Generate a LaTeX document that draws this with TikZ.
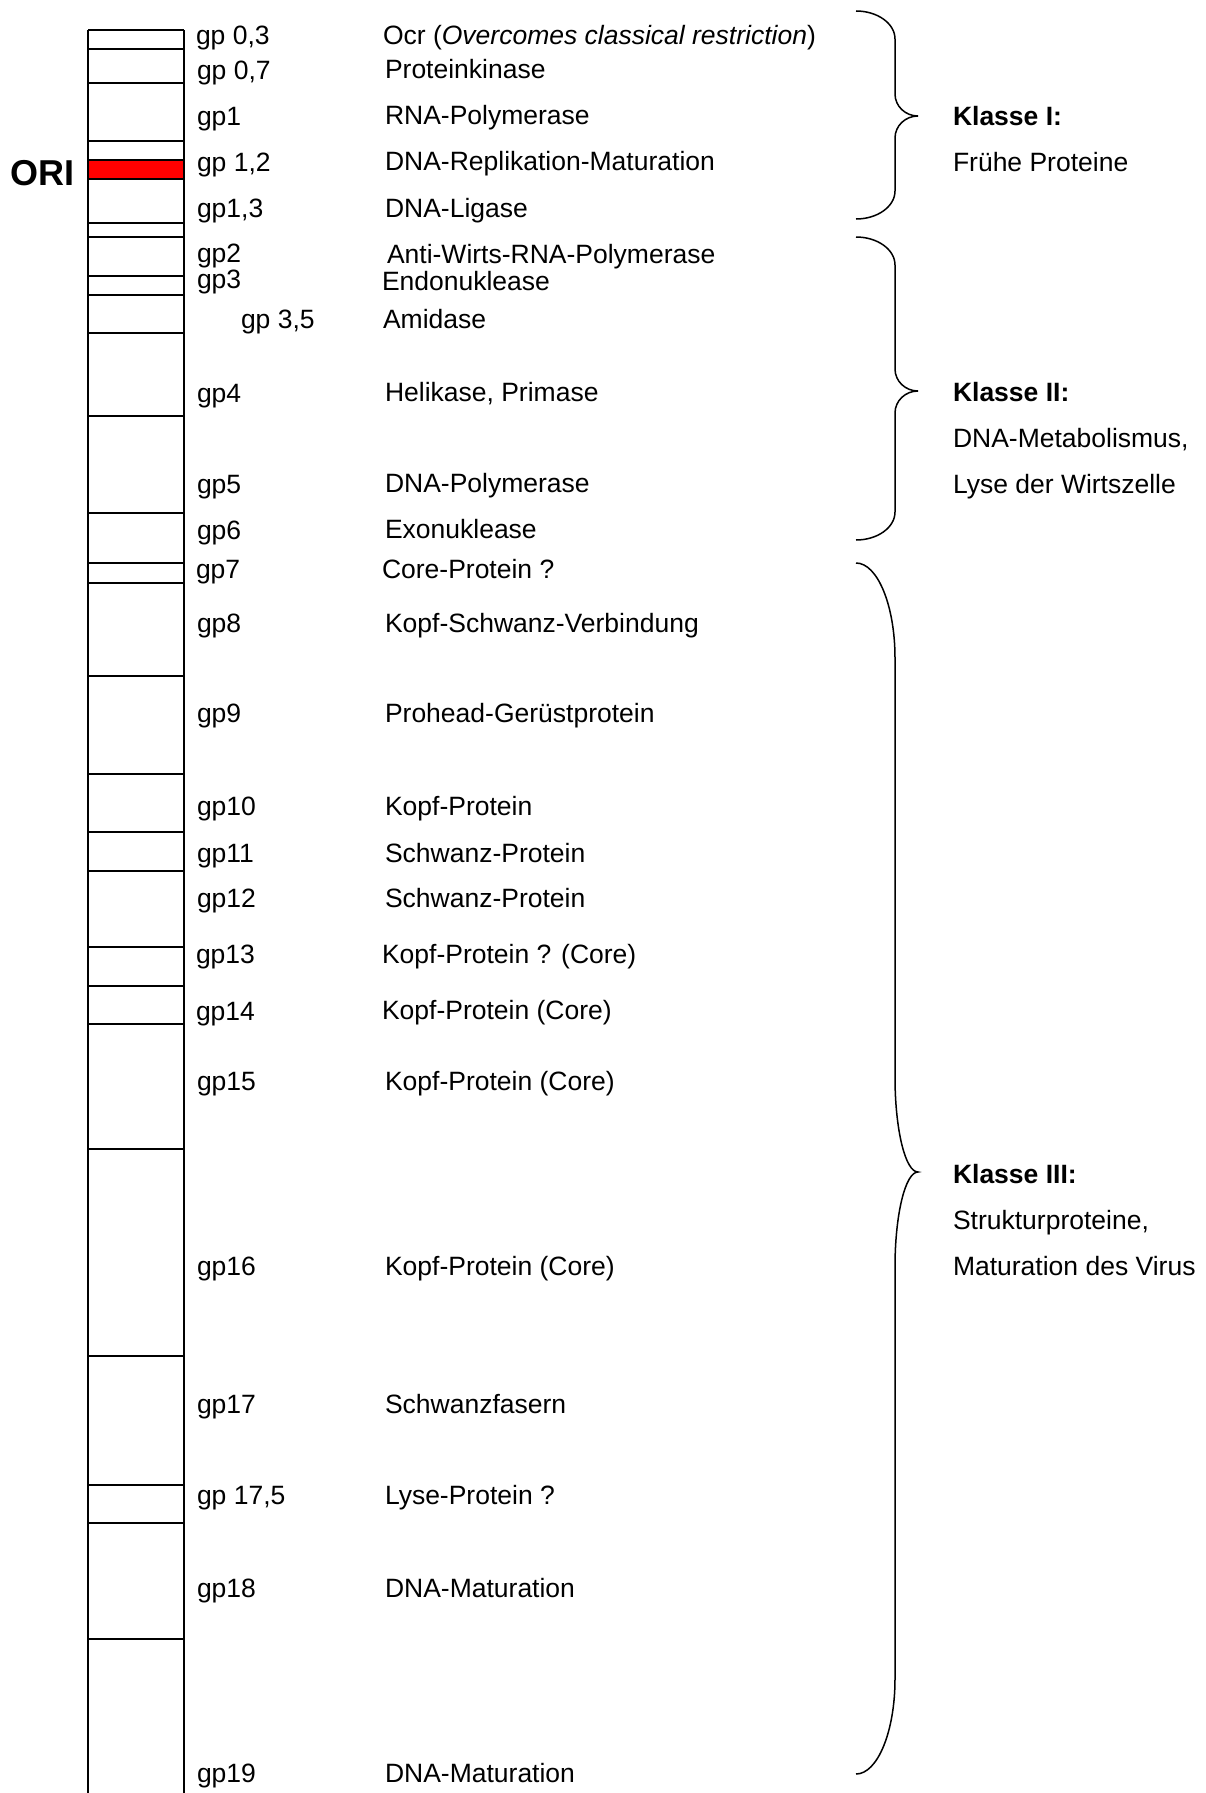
\documentclass[tikz,border=0pt]{standalone}
\usepackage{fontspec}
\setmainfont{Liberation Sans}
\newcommand\classbrace[5]{% top, tip, bottom, end radius, tip radius
  \draw[bracestyle] (856,#1) .. controls ({856+0.552*39},#1) and (895,{#1+0.448*#4}) .. (895,{#1+#4})
    -- (895,{#2-#5}) .. controls (895,{#2-0.448*#5}) and ({918-0.552*23},#2) .. (918,#2)
    .. controls ({918-0.552*23},#2) and (895,{#2+0.448*#5}) .. (895,{#2+#5})
    -- (895,{#3-#4}) .. controls (895,{#3-0.448*#4}) and ({856+0.552*39},#3) .. (856,#3);}
\begin{document}
\begin{tikzpicture}[x=1pt,y=-1pt,
  txt/.style={inner sep=0pt, outer sep=0pt, anchor=base west, font=\fontsize{26.5}{30}\selectfont},
  klasse/.style={txt, font=\fontsize{26.5}{30}\selectfont\bfseries},
  orilabel/.style={txt, font=\fontsize{36}{40}\selectfont\bfseries},
  sepline/.style={line width=1.8pt},
  colline/.style={line width=2pt},
  bracestyle/.style={line width=1.5pt}]
\useasboundingbox (0,0) rectangle (1205,1793);
\fill[white] (0,0) rectangle (1205,1793);

% gene column
\foreach \y in {30,49,83,141,223,237,276,295,333,416,513,563,583,676,774,832,871,947,986,1024,1149,1356,1485,1523,1639}
  \draw[sepline] (88,\y) -- (184,\y);
\draw[sepline, fill=red] (88,160) rectangle (184,179);
\draw[colline] (88,30) -- (88,1793) (184,30) -- (184,1793);

\node[orilabel] (ori) at (10,185) {ORI};

% gene labels
\node[txt] (g1)  at (196,45)   {gp 0,3};
\node[txt] (g2)  at (197,79)   {gp 0,7};
\node[txt] (g3)  at (197,125)  {gp1};
\node[txt] (g4)  at (197,171)  {gp 1,2};
\node[txt] (g5)  at (197,217)  {gp1,3};
\node[txt] (g6)  at (197,262)  {gp2};
\node[txt] (g7)  at (197,288)  {gp3};
\node[txt] (g8)  at (241,328)  {gp 3,5};
\node[txt] (g9)  at (197,402)  {gp4};
\node[txt] (g10) at (197,493)  {gp5};
\node[txt] (g11) at (197,539)  {gp6};
\node[txt] (g12) at (196,578)  {gp7};
\node[txt] (g13) at (197,632)  {gp8};
\node[txt] (g14) at (197,722)  {gp9};
\node[txt] (g15) at (197,815)  {gp10};
\node[txt] (g16) at (197,862)  {gp11};
\node[txt] (g17) at (197,907)  {gp12};
\node[txt] (g18) at (196,963)  {gp13};
\node[txt] (g19) at (196,1020) {gp14};
\node[txt] (g20) at (197,1090) {gp15};
\node[txt] (g21) at (197,1275) {gp16};
\node[txt] (g22) at (197,1413) {gp17};
\node[txt] (g23) at (197,1504) {gp 17,5};
\node[txt] (g24) at (197,1597) {gp18};
\node[txt] (g25) at (197,1782) {gp19};

% descriptions
\node[txt] (d1)  at (383,45)   {Ocr (\textit{Overcomes classical restriction})};
\node[txt] (d2)  at (385,78)   {Proteinkinase};
\node[txt] (d3)  at (385,124)  {RNA-Polymerase};
\node[txt] (d4)  at (385,170)  {DNA-Replikation-Maturation};
\node[txt] (d5)  at (385,217)  {DNA-Ligase};
\node[txt] (d6)  at (387,263)  {Anti-Wirts-RNA-Polymerase};
\node[txt] (d7)  at (382,290)  {Endonuklease};
\node[txt] (d8)  at (383,328)  {Amidase};
\node[txt] (d9)  at (385,401)  {Helikase, Primase};
\node[txt] (d10) at (385,492)  {DNA-Polymerase};
\node[txt] (d11) at (385,538)  {Exonuklease};
\node[txt] (d12) at (382,578)  {Core-Protein ?};
\node[txt] (d13) at (385,632)  {Kopf-Schwanz-Verbindung};
\node[txt] (d14) at (385,722)  {Prohead-Gerüstprotein};
\node[txt] (d15) at (385,815)  {Kopf-Protein};
\node[txt] (d16) at (385,862)  {Schwanz-Protein};
\node[txt] (d17) at (385,907)  {Schwanz-Protein};
\node[txt] (d18) at (382,963)  {Kopf-Protein ? (Core)};
\node[txt] (d19) at (382,1019) {Kopf-Protein (Core)};
\node[txt] (d20) at (385,1090) {Kopf-Protein (Core)};
\node[txt] (d21) at (385,1275) {Kopf-Protein (Core)};
\node[txt] (d22) at (385,1413) {Schwanzfasern};
\node[txt] (d23) at (385,1504) {Lyse-Protein ?};
\node[txt] (d24) at (385,1597) {DNA-Maturation};
\node[txt] (d25) at (385,1782) {DNA-Maturation};

% braces
\classbrace{11}{116}{219}{28}{22}
\classbrace{237}{391}{540}{28}{22}
\classbrace{563}{1172}{1774}{95}{95}

% class labels
\node[klasse] (k1)  at (953,125)  {Klasse I:};
\node[txt]    (k1a) at (953,171)  {Frühe Proteine};
\node[klasse] (k2)  at (953,401)  {Klasse II:};
\node[txt]    (k2a) at (953,447)  {DNA-Metabolismus,};
\node[txt]    (k2b) at (953,493)  {Lyse der Wirtszelle};
\node[klasse] (k3)  at (953,1183) {Klasse III:};
\node[txt]    (k3a) at (953,1229) {Strukturproteine,};
\node[txt]    (k3b) at (953,1275) {Maturation des Virus};
\end{tikzpicture}
\end{document}
